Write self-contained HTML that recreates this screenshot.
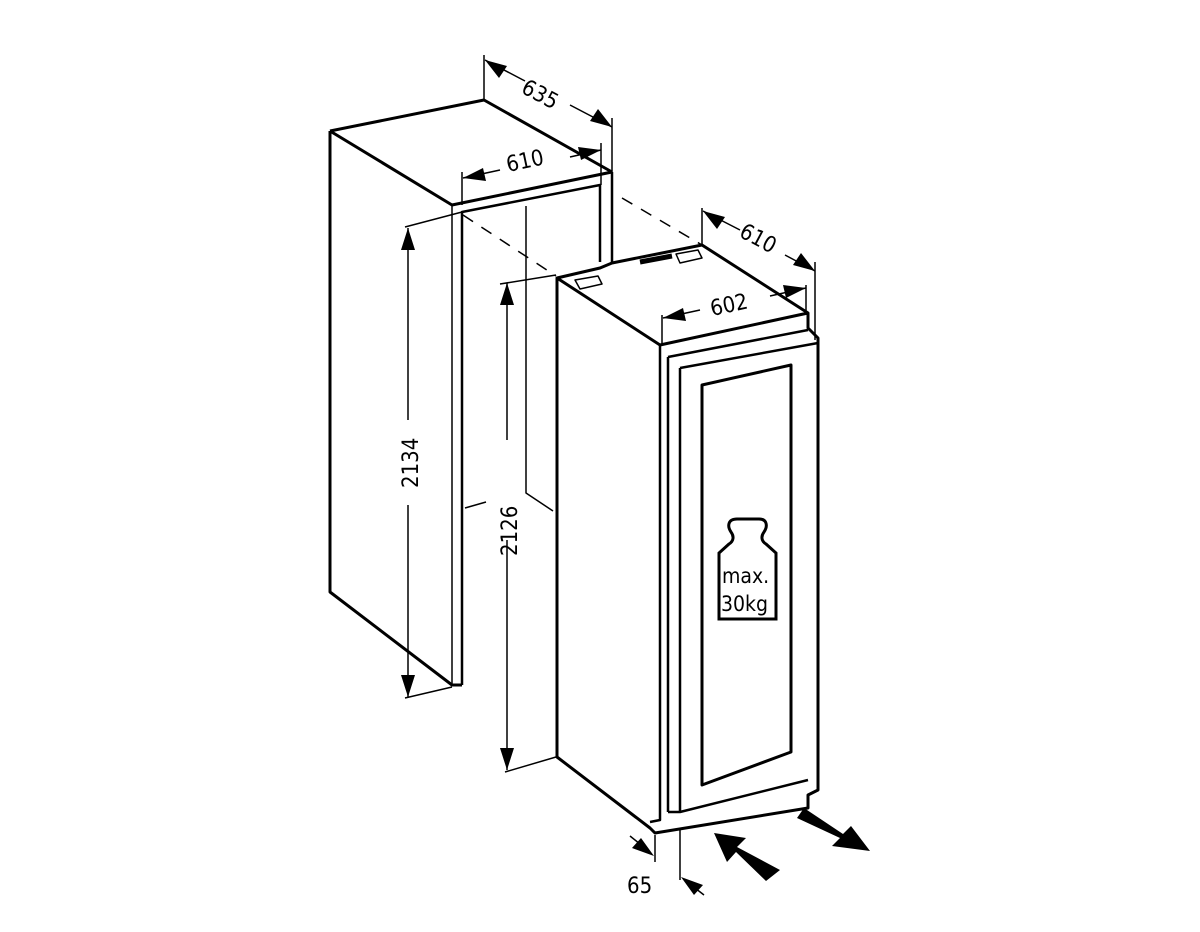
<!DOCTYPE html>
<html><head><meta charset="utf-8"><style>body{margin:0;background:#fff}svg{display:block}text{font-family:"DejaVu Sans Condensed","Liberation Sans",sans-serif;font-size:22px;fill:#000}</style></head>
<body>
<svg width="1200" height="932" viewBox="0 0 1200 932" xmlns="http://www.w3.org/2000/svg">
<g fill="none" stroke="#000" stroke-linejoin="round">
<!-- cabinet -->
<path d="M330,131L484,100L612,172M330,131L452,205L612,172M330,131V592L452,685H462" stroke-width="3"/>
<path d="M452,205V685" stroke-width="1.5"/>
<path d="M462,685V212L600,185V262M612,172V262" stroke-width="2.5"/>
<path d="M526,206V493L553,511M465,508L486,502" stroke-width="1.5"/>
<path d="M463,215L556,276M622,198L702,245" stroke-width="1.5" stroke-dasharray="12,10"/>
<!-- appliance -->
<path d="M557,278L600,268L612,263L702,245L808,313V328L818,338V790L808,795V808L655,833L650,828L557,757V278L660,345L808,313" stroke-width="3"/>
<path d="M660,345V820L650,822" stroke-width="2.5"/>
<path d="M668,357L808,330M668,357V812M680,368L818,343M680,368V812L808,780M668,812L680,812" stroke-width="2.5"/>
<path d="M702,385L791,365V752L702,785Z" stroke-width="3"/>
<path d="M575,280L598,276L602,284L580,289ZM676,254L698,250L702,258L680,263Z" stroke-width="1.5"/>
<path d="M640,262L672,256" stroke-width="5"/>
<!-- dims -->
<g stroke-width="1.5">
<path d="M484,55V100M612,118V172M462,172V205M601,143V185M702,208V245M815,262V340M662,315V345M806,285V313"/>
<path d="M405,227L462,212M405,698L452,687M500,284L556,275M505,772L556,757M655,835V862M680,828V880"/>
<path d="M485,60L525,81M570,105L612,127"/>
<path d="M463,178L500,170M570,157L601,150"/>
<path d="M703,211L740,230M785,255L815,271"/>
<path d="M663,318L700,310M770,296L806,288"/>
<path d="M408,228V420M408,505V697"/>
<path d="M507,283V440M507,540V770"/>
</g>
</g>
<path d="M485,60l22,6l-8,12zM612,127l-22,-6l8,-12zM463,178l20,-10l3,13zM601,150l-20,10l-3,-13zM703,211l22,6l-8,12zM815,271l-22,-6l8,-12zM663,318l20,-10l3,13zM806,288l-20,10l-3,-13zM408,228l-7,22h14zM408,697l-7,-22h14zM507,283l-7,22h14zM507,770l-7,-22h14zM654,856l-22,-8l9,-10zM681,877l22,8l-9,10z"/>
<path d="M630,836L650,852M704,895L686,881" stroke="#000" stroke-width="1.5"/>
<!-- big arrows -->
<path d="M780,870L766,881L736,852L727,862L714,833L746,838L737,847Z"/>
<path d="M797,818L804,808L843,834L851,826L870,851L832,846L840,838Z"/>
<text transform="translate(520,92) rotate(28)">635</text>
<text transform="translate(508,172) rotate(-12)">610</text>
<text transform="translate(738,236) rotate(28)">610</text>
<text transform="translate(712,316) rotate(-12)">602</text>
<text transform="translate(418,488) rotate(-90)">2134</text>
<text transform="translate(517,556) rotate(-90)">2126</text>
<text x="627" y="893">65</text>
<!-- weight -->
<path d="M737,519h22c8,0 9,7 5,13c-3,4 -3,9 2,12l10,9v66h-57v-66l10,-9c5,-3 5,-8 2,-12c-4,-6 -3,-13 6,-13z" fill="none" stroke="#000" stroke-width="3"/>
<text x="722" y="583" style="font-size:21px">max.</text>
<text x="721" y="611" style="font-size:21px">30kg</text>
</svg>
</body></html>
